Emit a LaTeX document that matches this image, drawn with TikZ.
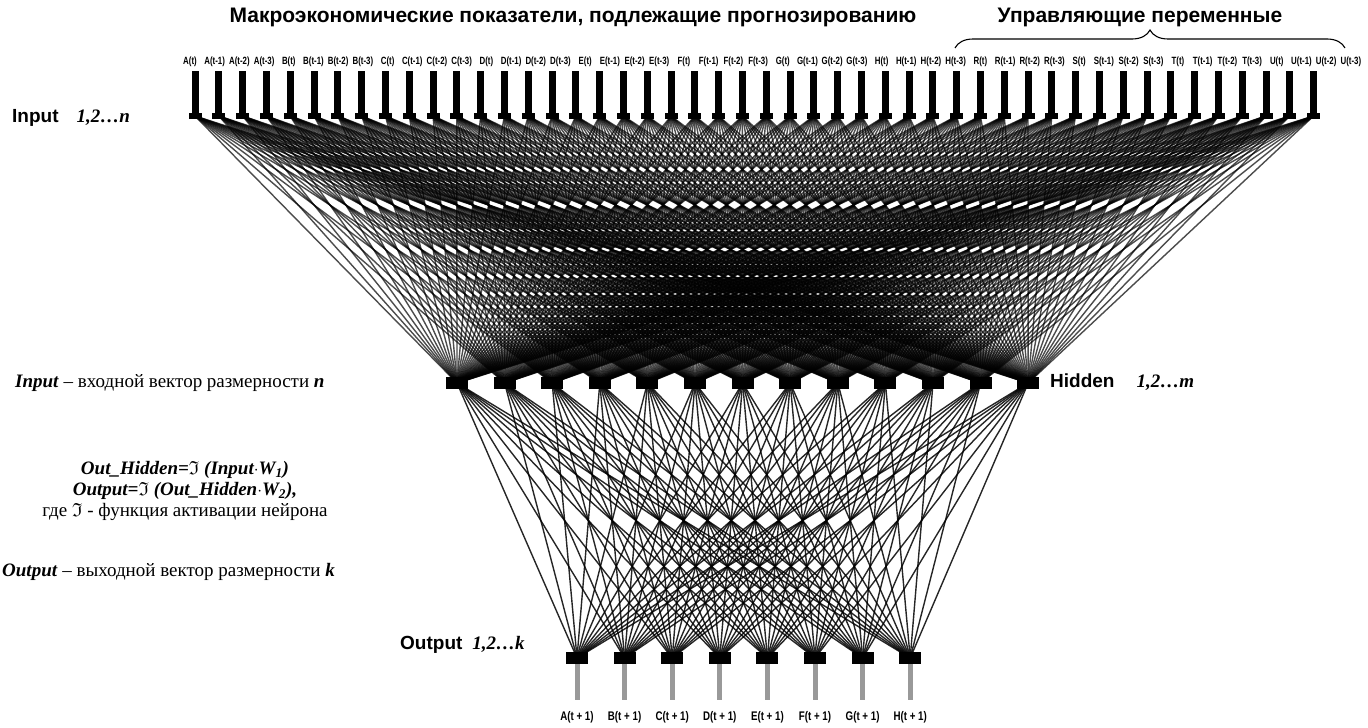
\documentclass[tikz,border=0pt]{standalone}
\usepackage{fontspec}
\usepackage{amssymb}
\setmainfont{Liberation Serif}
\newfontfamily\arial{Liberation Sans}
\usetikzlibrary{decorations.pathreplacing,backgrounds}
\begin{document}
\begin{tikzpicture}[x=1pt,y=-1pt,
  inbox/.style={fill=black, inner sep=0, minimum width=13pt, minimum height=6pt},
  nbox/.style={fill=black, inner sep=0, minimum width=22pt, minimum height=12pt},
  inbar/.style={line width=7pt, black},
  obar/.style={line width=5pt, black!40},
  wone/.style={line width=1.4pt, black, opacity=0.7},
  wtwo/.style={line width=1.4pt, black, opacity=0.85},
  lab/.style={font=\arial\bfseries\fontsize{10.5}{10.5}\selectfont, inner sep=0},
  olab/.style={font=\arial\bfseries\fontsize{12.5}{12.5}\selectfont, inner sep=0},
  title/.style={font=\arial\bfseries\fontsize{21}{23}\selectfont, inner sep=0},
  side/.style={font=\fontsize{19}{21}\selectfont, inner sep=0},
  layer/.style={font=\fontsize{19}{21}\selectfont, inner sep=0, anchor=west}
]
\useasboundingbox (0,0) rectangle (1368,728);

% titles
\node[title] (ttl1) at (573,17) {Макроэкономические показатели, подлежащие прогнозированию};
\node[title] (ttl2) at (1140,17) {Управляющие переменные};
\coordinate (bl) at (955,48);
\coordinate (br) at (1345,48);
\draw[decorate, decoration={brace, amplitude=18pt}, line width=1.1pt] (bl) -- (br);

% input layer
\foreach \i in {0,...,47} {
  \pgfmathsetmacro\xx{195+\i*23.8}
  \coordinate (it\i) at (\xx,71);
  \node[inbox] (in\i) at (\xx,116) {};
}
\foreach \t [count=\c from 0] in {A(t),A(t-1),A(t-2),A(t-3),B(t),B(t-1),B(t-2),B(t-3),C(t),C(t-1),C(t-2),C(t-3),D(t),D(t-1),D(t-2),D(t-3),E(t),E(t-1),E(t-2),E(t-3),F(t),F(t-1),F(t-2),F(t-3),G(t),G(t-1),G(t-2),G(t-3),H(t),H(t-1),H(t-2),H(t-3),R(t),R(t-1),R(t-2),R(t-3),S(t),S(t-1),S(t-2),S(t-3),T(t),T(t-1),T(t-2),T(t-3),U(t),U(t-1),U(t-2),U(t-3)} {
  \pgfmathsetmacro\lx{190+\c*24.7}
  \node[lab] (lab\c) at (\lx,62) {\scalebox{0.75}[1]{\t}};
}

% hidden layer
\foreach \j in {0,...,12} {
  \node[nbox] (hid\j) at ({457+\j*47.6},383) {};
}
% output layer
\foreach \k/\nm in {0/A,1/B,2/C,3/D,4/E,5/F,6/G,7/H} {
  \node[nbox] (out\k) at ({577+\k*47.6},658) {};
  \coordinate (ob\k) at ({577+\k*47.6},700);
  \node[olab] (ol\k) at ({577+\k*47.6},717) {\scalebox{0.78}[1]{\nm(t + 1)}};
}

% connections
\begin{scope}[on background layer]
  \foreach \i in {0,...,47} {
    \foreach \j in {0,...,12} {
      \draw[wone] (in\i.center) -- (hid\j.center);
    }
  }
  \foreach \j in {0,...,12} {
    \foreach \k in {0,...,7} {
      \draw[wtwo] (hid\j.center) -- (out\k.center);
    }
  }
\end{scope}
\foreach \i in {0,...,47} {
  \draw[inbar] (it\i) -- (in\i.center);
}
\foreach \k in {0,...,7} {
  \draw[obar] (out\k.south) -- (ob\k);
}

% layer labels
\node[layer] (linput) at (12,118) {{\arial\bfseries Input}\hspace{18pt}\textbf{\textit{1,2…n}}};
\node[layer] (lhidden) at (1050,382) {{\arial\bfseries Hidden}\hspace{22pt}\textbf{\textit{1,2…m}}};
\node[layer] (loutput) at (400,645) {{\arial\bfseries Output}\hspace{10pt}\textbf{\textit{1,2…k}}};

% side texts
\node[side, anchor=west] (s1) at (15,383) {\textbf{\textit{Input}} – входной вектор размерности \textbf{\textit{n}}};
\node[side, align=center] (s2) at (185,491) {\textbf{\textit{Out\_Hidden=$\mathfrak{I}$ (Input$\cdot$W\textsubscript{1})}}\\
  \textbf{\textit{Output=$\mathfrak{I}$ (Out\_Hidden$\cdot$W\textsubscript{2}),}}\\
  где $\mathfrak{I}$ - функция активации нейрона};
\node[side, anchor=west] (s3) at (2,572) {\textbf{\textit{Output}} – выходной вектор размерности \textbf{\textit{k}}};
\end{tikzpicture}
\end{document}
